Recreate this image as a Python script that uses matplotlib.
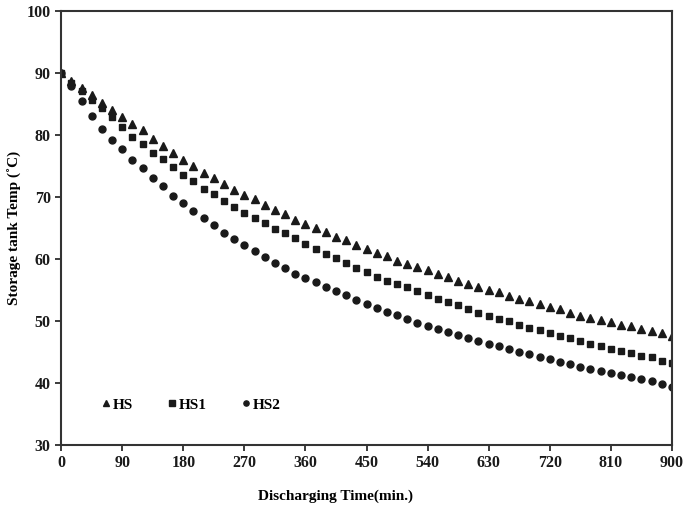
import matplotlib
matplotlib.use("Agg")
import matplotlib.pyplot as plt

# discharging time, one reading every 15 min
time_min = list(range(0, 901, 15))

hs = [90.0, 88.6, 87.5, 86.4, 85.2, 84.0, 82.9, 81.8, 80.7, 79.4,
      78.2, 77.0, 76.0, 75.0, 73.9, 73.0, 72.0, 71.1, 70.3, 69.6,
      68.7, 67.9, 67.2, 66.3, 65.6, 64.9, 64.3, 63.5, 63.0, 62.3,
      61.6, 61.0, 60.4, 59.7, 59.1, 58.7, 58.2, 57.6, 57.1, 56.5,
      56.0, 55.4, 55.0, 54.6, 54.0, 53.5, 53.2, 52.7, 52.3, 51.9,
      51.3, 50.8, 50.4, 50.1, 49.8, 49.4, 49.1, 48.7, 48.4, 48.0, 47.6]

hs1 = [90.0, 88.3, 87.0, 85.6, 84.3, 82.8, 81.2, 79.7, 78.5, 77.1,
       76.1, 74.8, 73.5, 72.5, 71.3, 70.4, 69.4, 68.3, 67.4, 66.6,
       65.7, 64.8, 64.1, 63.3, 62.4, 61.6, 60.8, 60.2, 59.3, 58.6,
       57.8, 57.1, 56.4, 55.9, 55.4, 54.8, 54.1, 53.5, 53.1, 52.5,
       51.9, 51.2, 50.8, 50.3, 49.9, 49.4, 48.9, 48.5, 48.0, 47.6,
       47.2, 46.7, 46.2, 45.9, 45.5, 45.2, 44.8, 44.4, 44.1, 43.6, 43.2]

hs2 = [90.0, 87.8, 85.4, 83.1, 81.0, 79.2, 77.7, 76.0, 74.6, 73.0,
       71.7, 70.2, 69.0, 67.7, 66.6, 65.5, 64.2, 63.2, 62.2, 61.2,
       60.3, 59.3, 58.5, 57.6, 56.9, 56.2, 55.5, 54.8, 54.1, 53.4,
       52.8, 52.1, 51.5, 50.9, 50.3, 49.7, 49.2, 48.7, 48.2, 47.7,
       47.2, 46.7, 46.2, 45.9, 45.5, 45.0, 44.6, 44.1, 43.8, 43.3,
       43.0, 42.6, 42.2, 41.9, 41.6, 41.3, 40.9, 40.6, 40.3, 39.9, 39.4]

x_ticks = list(range(0, 901, 90))
y_ticks = list(range(30, 101, 10))

plt.rcParams["font.family"] = ["Liberation Serif", "DejaVu Serif"]
plt.rcParams["font.weight"] = "bold"

fig = plt.figure(figsize=(6.87, 5.12), dpi=100)
ax = fig.add_axes([0.089, 0.131, 0.889, 0.848])

ink = "#1a1a1a"
ax.plot(time_min, hs, ls="none", marker="^", ms=5.5, color=ink, label="HS")
ax.plot(time_min, hs1, ls="none", marker="s", ms=5, color=ink, label="HS1")
ax.plot(time_min, hs2, ls="none", marker="o", ms=5, color=ink, label="HS2")

ax.set_xlim(0, 900)
ax.set_ylim(30, 100)
ax.set_xticks(x_ticks)
ax.set_yticks(y_ticks)
ax.tick_params(direction="out", length=4, width=1.2, labelsize=11.5, colors=ink)
for lab in ax.get_xticklabels() + ax.get_yticklabels():
    lab.set_fontweight("bold")
for sp in ax.spines.values():
    sp.set_linewidth(1.5)
    sp.set_color("#333333")

ax.set_xlabel("Discharging Time(min.)", fontsize=11, fontweight="bold")
ax.xaxis.set_label_coords(0.45, -0.102)
ax.set_ylabel("Storage tank Temp (\u02daC)", fontsize=11, fontweight="bold", labelpad=3)

leg = ax.legend(loc="center left", bbox_to_anchor=(0.045, 0.092), ncol=3, frameon=False,
                handlelength=0.5, handletextpad=0.2, columnspacing=2.3,
                prop={"weight": "bold", "size": 11}, markerscale=0.75)

fig.savefig("out.png", dpi=100)
